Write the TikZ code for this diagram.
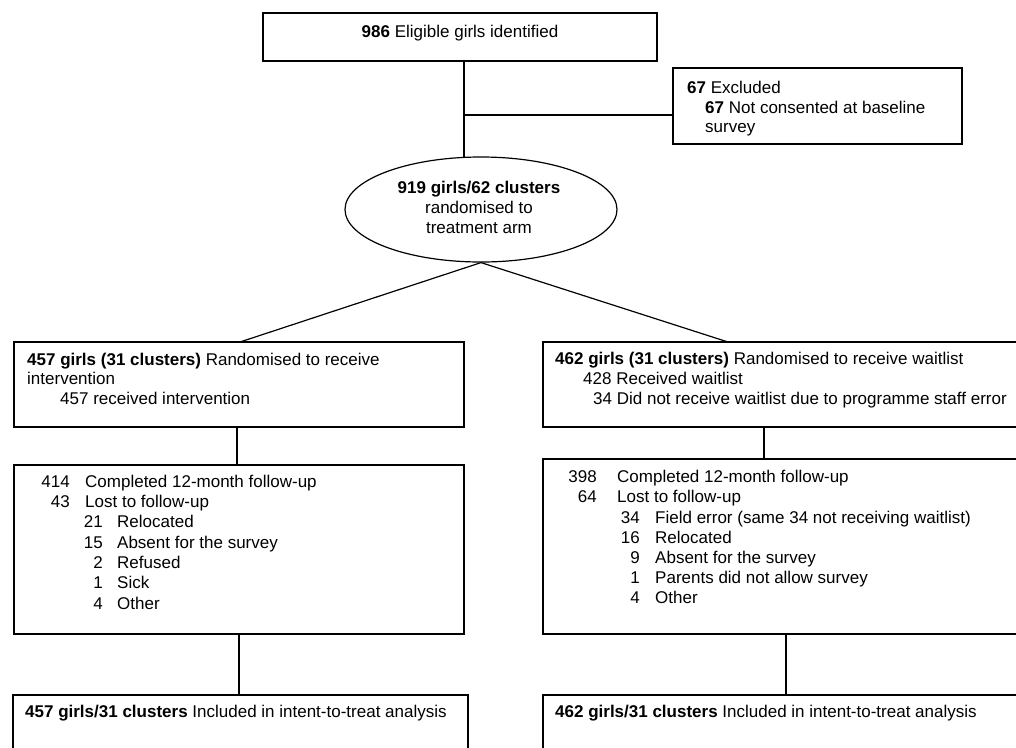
\documentclass[tikz,border=0pt]{standalone}
\usepackage{fontspec}
\setmainfont{Liberation Sans}
\usetikzlibrary{shapes.geometric}
\newcommand\flowfont{\fontsize{17}{20.3}\selectfont}
\begin{document}
\begin{tikzpicture}[x=1pt,y=-1pt,
  box/.style={draw, line width=1.2pt, inner sep=0pt, outer sep=0pt, anchor=north west},
  conn/.style={line width=1.2pt},
  tl/.style={anchor=base west, inner sep=0pt, font=\flowfont},
  tr/.style={anchor=base east, inner sep=0pt, font=\flowfont},
  tc/.style={anchor=base, inner sep=0pt, font=\flowfont}]
\useasboundingbox (0,0) rectangle (1016,747);
\clip (0,0) rectangle (1016,747);
% boxes
\node[box, minimum width=394pt, minimum height=48pt] (top) at (263,13) {};
\node[box, minimum width=289pt, minimum height=76pt] (excl) at (673,68) {};
\node[draw, ellipse, line width=1.2pt, inner sep=0pt, minimum width=272pt, minimum height=105pt] (ell) at (481,209.5) {};
\node[box, minimum width=450pt, minimum height=85pt] (b1l) at (14,342) {};
\node[box, minimum width=500pt, minimum height=85pt] (b1r) at (543,342) {};
\node[box, minimum width=450pt, minimum height=169pt] (b2l) at (14,465) {};
\node[box, minimum width=500pt, minimum height=175pt] (b2r) at (543,459) {};
\node[box, minimum width=455pt, minimum height=100pt] (b3l) at (13,695) {};
\node[box, minimum width=500pt, minimum height=100pt] (b3r) at (543,695) {};
% texts
\node[tc] (ttop) at (460,37) {\textbf{986} Eligible girls identified};
\node[tl] (te1) at (687,93) {\textbf{67} Excluded};
\node[tl] (te2) at (705,113) {\textbf{67} Not consented at baseline};
\node[tl] (te3) at (705,132) {survey};
\node[tc] (tel1) at (479,193) {\textbf{919 girls/62 clusters}};
\node[tc] (tel2) at (479,213) {randomised to};
\node[tc] (tel3) at (479,233) {treatment arm};
\node[tl] (tl11) at (27,365) {\textbf{457 girls (31 clusters)} Randomised to receive};
\node[tl] (tl12) at (27,384) {intervention};
\node[tl] (tl13) at (60,404) {457 received intervention};
\node[tl] (tr11) at (555,364) {\textbf{462 girls (31 clusters)} Randomised to receive waitlist};
\node[tl] (tr12) at (583,384) {428 Received waitlist};
\node[tl] (tr13) at (593,404) {34 Did not receive waitlist due to programme staff error};
% left follow-up
\node[tr] (ln1) at (70,487) {414};  \node[tl] (lt1) at (85,487) {Completed 12-month follow-up};
\node[tr] (ln2) at (70,507) {43};   \node[tl] (lt2) at (85,507) {Lost to follow-up};
\node[tr] (ln3) at (103,527) {21};  \node[tl] (lt3) at (117,527) {Relocated};
\node[tr] (ln4) at (103,548) {15};  \node[tl] (lt4) at (117,548) {Absent for the survey};
\node[tr] (ln5) at (103,568) {2};   \node[tl] (lt5) at (117,568) {Refused};
\node[tr] (ln6) at (103,588) {1};   \node[tl] (lt6) at (117,588) {Sick};
\node[tr] (ln7) at (103,609) {4};   \node[tl] (lt7) at (117,609) {Other};
% right follow-up
\node[tr] (rn1) at (597,482) {398}; \node[tl] (rt1) at (617,482) {Completed 12-month follow-up};
\node[tr] (rn2) at (597,502) {64};  \node[tl] (rt2) at (617,502) {Lost to follow-up};
\node[tr] (rn3) at (640,523) {34};  \node[tl] (rt3) at (655,523) {Field error (same 34 not receiving waitlist)};
\node[tr] (rn4) at (640,543) {16};  \node[tl] (rt4) at (655,543) {Relocated};
\node[tr] (rn5) at (640,563) {9};   \node[tl] (rt5) at (655,563) {Absent for the survey};
\node[tr] (rn6) at (640,583) {1};   \node[tl] (rt6) at (655,583) {Parents did not allow survey};
\node[tr] (rn7) at (640,603) {4};   \node[tl] (rt7) at (655,603) {Other};
% bottom
\node[tl] (tb3l) at (25,717) {\textbf{457 girls/31 clusters} Included in intent-to-treat analysis};
\node[tl] (tb3r) at (555,717) {\textbf{462 girls/31 clusters} Included in intent-to-treat analysis};
% connectors
\coordinate (j1) at (464,115);
\coordinate (la) at (240,342);
\coordinate (ra) at (728,342);
\coordinate (v1) at (237,0);
\coordinate (v2) at (239,0);
\coordinate (v3) at (764,0);
\coordinate (v4) at (786,0);
\draw[conn] (j1 |- top.south) -- (464,157.4);
\draw[conn] (j1) -- (j1 -| excl.west);
\draw[conn] (ell.south) -- (la);
\draw[conn] (ell.south) -- (ra);
\draw[conn] (v1 |- b1l.south) -- (v1 |- b2l.north);
\draw[conn] (v2 |- b2l.south) -- (v2 |- b3l.north);
\draw[conn] (v3 |- b1r.south) -- (v3 |- b2r.north);
\draw[conn] (v4 |- b2r.south) -- (v4 |- b3r.north);
\end{tikzpicture}
\end{document}
